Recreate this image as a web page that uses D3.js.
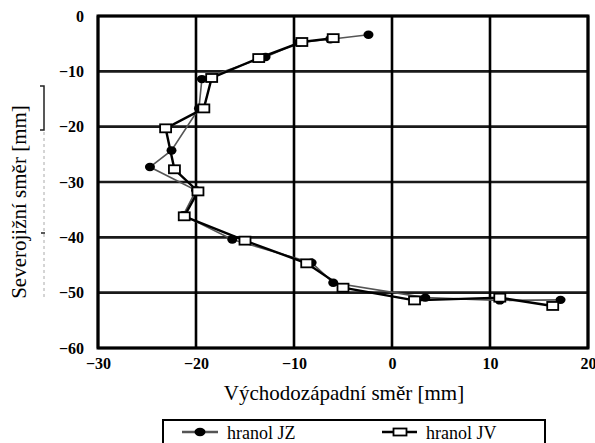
<!DOCTYPE html>
<html><head><meta charset="utf-8">
<script src="https://cdn.jsdelivr.net/npm/d3@7"></script>
<style>
html,body{margin:0;padding:0;background:#fff;}
svg{display:block;}
</style></head>
<body>
<svg id="c" width="595" height="443"></svg>
<script>
// Data (x = east-west [mm], y = north-south [mm])
const seriesNames = ["hranol JZ", "hranol JV"];
const jzX = [-2.4, -6.3, -9.5, -12.9, -19.4, -19.7, -22.5, -24.7, -20.0, -21.3, -16.3, -8.2, -6.0, 3.4, 11.0, 17.2];
const jzY = [-3.4, -4.2, -4.8, -7.4, -11.4, -16.7, -24.3, -27.3, -31.5, -36.0, -40.4, -44.6, -48.2, -50.9, -51.4, -51.3];
const jvX = [-6.0, -9.2, -13.6, -18.4, -19.2, -23.1, -22.2, -19.8, -21.2, -15.0, -8.7, -5.0, 2.3, 11.0, 16.4];
const jvY = [-4.0, -4.7, -7.6, -11.2, -16.7, -20.3, -27.7, -31.7, -36.2, -40.6, -44.7, -49.1, -51.4, -50.9, -52.4];
const xTicks = [-30, -20, -10, 0, 10, 20];
const yTicks = [0, -10, -20, -30, -40, -50, -60];
const xTitle = "Východozápadní směr [mm]";
const yTitle = "Severojižní směr [mm]";

const FONT = '"Liberation Serif"';
const svg = d3.select("#c");
const L = 98, R = 588, T = 16, B = 348;
const x = d3.scaleLinear().domain([-30, 20]).range([L, R]);
const y = d3.scaleLinear().domain([-60, 0]).range([B, T]);

// grid
const g = svg.append("g");
g.selectAll("line.h").data(yTicks).join("line")
  .attr("x1", L).attr("x2", R).attr("y1", d => y(d)).attr("y2", d => y(d))
  .attr("stroke", "#1a1a1a").attr("stroke-width", 2.6);
g.selectAll("line.v").data(xTicks).join("line")
  .attr("y1", T).attr("y2", B).attr("x1", d => x(d)).attr("x2", d => x(d))
  .attr("stroke", "#000").attr("stroke-width", 2.6);
svg.append("rect").attr("x", L).attr("y", T).attr("width", R - L).attr("height", B - T)
  .attr("fill", "none").attr("stroke", "#000").attr("stroke-width", 3);

// axes (labels only)
const xAxis = d3.axisBottom(x).tickValues(xTicks).tickSize(0).tickPadding(10).tickFormat(d3.format("d"));
const xg = svg.append("g").attr("transform", `translate(0,${B})`).call(xAxis);
xg.select(".domain").remove();
xg.selectAll("text").attr("font-weight", "bold").attr("font-size", 16).attr("fill", "#000");

const yAxis = d3.axisLeft(y).tickValues(yTicks).tickSize(0).tickPadding(0).tickFormat(d3.format("d"));
const yg = svg.append("g").attr("transform", `translate(84,0)`).call(yAxis);
yg.select(".domain").remove();
yg.selectAll("text").attr("font-weight", "bold").attr("font-size", 16).attr("fill", "#000");

// titles
svg.append("text").attr("x", 344).attr("y", 400).attr("text-anchor", "middle")
  .attr("font-size", 21).text(xTitle);
svg.append("text").attr("transform", "translate(26,202) rotate(-90)").attr("text-anchor", "middle")
  .attr("font-size", 21).text(yTitle);

// scan artifacts near y-axis title
svg.append("path").attr("d", "M40,86 L44,86 L44,130 L40,130").attr("fill", "none").attr("stroke", "#222").attr("stroke-width", 1.5);
svg.append("line").attr("x1", 44).attr("x2", 44).attr("y1", 132).attr("y2", 300)
  .attr("stroke", "#aaa").attr("stroke-width", 1).attr("stroke-dasharray", "3,3");
svg.append("line").attr("x1", 41).attr("x2", 45).attr("y1", 233).attr("y2", 233)
  .attr("stroke", "#222").attr("stroke-width", 1.5);

// series
const jz = jzX.map((v, i) => [v, jzY[i]]);
const jv = jvX.map((v, i) => [v, jvY[i]]);
const line = d3.line().x(d => x(d[0])).y(d => y(d[1]));

svg.append("path").datum(jz).attr("d", line).attr("fill", "none")
  .attr("stroke", "#555").attr("stroke-width", 1.6);
svg.selectAll("ellipse.jz").data(jz).join("ellipse")
  .attr("cx", d => x(d[0])).attr("cy", d => y(d[1])).attr("rx", 5).attr("ry", 4.2).attr("fill", "#000");

svg.append("path").datum(jv).attr("d", line).attr("fill", "none")
  .attr("stroke", "#000").attr("stroke-width", 2.4);
svg.selectAll("rect.jv").data(jv).join("rect")
  .attr("x", d => x(d[0]) - 5.5).attr("y", d => y(d[1]) - 4).attr("width", 11).attr("height", 8)
  .attr("fill", "#fff").attr("stroke", "#000").attr("stroke-width", 1.8);

// legend
const lg = svg.append("g");
lg.append("rect").attr("x", 163).attr("y", 420).attr("width", 382).attr("height", 30)
  .attr("fill", "#fff").attr("stroke", "#000").attr("stroke-width", 2);
lg.append("line").attr("x1", 182).attr("x2", 218).attr("y1", 432).attr("y2", 432).attr("stroke", "#555").attr("stroke-width", 2.4);
lg.append("ellipse").attr("cx", 200).attr("cy", 432).attr("rx", 5.5).attr("ry", 4.2).attr("fill", "#000");
lg.append("text").attr("x", 227).attr("y", 439).attr("font-size", 18).text(seriesNames[0]);
lg.append("line").attr("x1", 382).attr("x2", 417).attr("y1", 432).attr("y2", 432).attr("stroke", "#000").attr("stroke-width", 2.6);
lg.append("rect").attr("x", 393.5).attr("y", 428.5).attr("width", 13).attr("height", 7)
  .attr("fill", "#fff").attr("stroke", "#000").attr("stroke-width", 1.8);
lg.append("text").attr("x", 426).attr("y", 439).attr("font-size", 18).text(seriesNames[1]);

// serif font on every text
svg.selectAll("text").style("font-family", FONT);
</script>
</body></html>
